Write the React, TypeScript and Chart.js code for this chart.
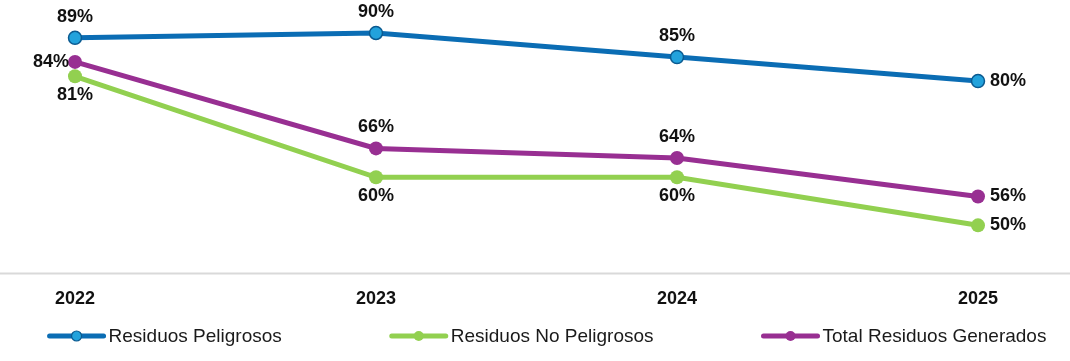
import React, { useEffect, useRef } from "react";
import { Chart, registerables } from "chart.js";

Chart.register(...registerables);

const years = ["2022", "2023", "2024", "2025"];
const peligrosos = [89, 90, 85, 80];
const noPeligrosos = [81, 60, 60, 50];
const totalGenerados = [84, 66, 64, 56];
const seriesNames = ["Residuos Peligrosos", "Residuos No Peligrosos", "Total Residuos Generados"];

const labelPlacement: string[][] = [
  ["above", "above", "above", "right"],
  ["below", "below", "below", "right"],
  ["left", "above", "above", "right"],
];

const FONT = "'Liberation Sans', Arial, sans-serif";

const valueLabels = {
  id: "valueLabels",
  afterDatasetsDraw(chart: any) {
    const ctx = chart.ctx;
    ctx.save();
    ctx.font = `bold 18px ${FONT}`;
    ctx.fillStyle = "#111111";
    ctx.textBaseline = "middle";
    chart.data.datasets.forEach((ds: any, di: number) => {
      const meta = chart.getDatasetMeta(di);
      meta.data.forEach((pt: any, i: number) => {
        const txt = `${ds.data[i]}%`;
        const pos = labelPlacement[di][i];
        let x = pt.x;
        let y = pt.y;
        if (pos === "above") {
          ctx.textAlign = "center";
          y -= 21;
        } else if (pos === "below") {
          ctx.textAlign = "center";
          y += 19;
        } else if (pos === "right") {
          ctx.textAlign = "left";
          x += 12;
        } else {
          ctx.textAlign = "right";
          x -= 6;
        }
        ctx.fillText(txt, x, y);
      });
    });
    ctx.restore();
  },
};

const baseLine = {
  id: "baseLine",
  beforeDatasetsDraw(chart: any) {
    const ctx = chart.ctx;
    const y = chart.chartArea.bottom;
    ctx.save();
    ctx.strokeStyle = "#d9d9d9";
    ctx.lineWidth = 2;
    ctx.beginPath();
    ctx.moveTo(0, y);
    ctx.lineTo(chart.width, y);
    ctx.stroke();
    ctx.restore();
  },
};

const customLegend = {
  id: "customLegend",
  afterDraw(chart: any) {
    const ctx = chart.ctx;
    ctx.save();
    ctx.font = `19px ${FONT}`;
    const markerW = 58;
    const textGap = 3;
    const itemGap = 108;
    const items = chart.data.datasets.map((ds: any) => ({
      ds,
      w: markerW + textGap + ctx.measureText(ds.label).width,
    }));
    const total = items.reduce((s: number, it: any) => s + it.w, 0) + itemGap * (items.length - 1);
    let x = 547 - total / 2;
    const y = 336;
    items.forEach((it: any) => {
      const ds = it.ds;
      ctx.strokeStyle = ds.borderColor;
      ctx.lineWidth = 5;
      ctx.lineCap = "round";
      ctx.beginPath();
      ctx.moveTo(x + 2, y);
      ctx.lineTo(x + markerW - 2, y);
      ctx.stroke();
      ctx.beginPath();
      ctx.arc(x + markerW / 2, y, 5, 0, Math.PI * 2);
      ctx.fillStyle = ds.pointBackgroundColor;
      ctx.fill();
      if (ds.pointBorderWidth > 0) {
        ctx.lineWidth = 1.2;
        ctx.strokeStyle = ds.pointBorderColor;
        ctx.stroke();
      }
      ctx.fillStyle = "#1a1a1a";
      ctx.textAlign = "left";
      ctx.textBaseline = "middle";
      ctx.fillText(ds.label, x + markerW + textGap, y + 1);
      x += it.w + itemGap;
    });
    ctx.restore();
  },
};

export default function App() {
  const ref = useRef<HTMLCanvasElement>(null);
  useEffect(() => {
    document.body.style.margin = "0";
    const chart = new Chart(ref.current!, {
      type: "line",
      data: {
        labels: years,
        datasets: [
          {
            label: seriesNames[0],
            data: peligrosos,
            borderColor: "#0b6db4",
            backgroundColor: "#0b6db4",
            pointBackgroundColor: "#22a2dc",
            pointBorderColor: "#0b5a90",
            pointBorderWidth: 1.5,
            pointRadius: 6.5,
            borderWidth: 5,
            tension: 0,
          },
          {
            label: seriesNames[1],
            data: noPeligrosos,
            borderColor: "#92d050",
            backgroundColor: "#92d050",
            pointBackgroundColor: "#92d050",
            pointBorderColor: "#92d050",
            pointBorderWidth: 0,
            pointRadius: 7,
            borderWidth: 5,
            tension: 0,
          },
          {
            label: seriesNames[2],
            data: totalGenerados,
            borderColor: "#982f92",
            backgroundColor: "#982f92",
            pointBackgroundColor: "#982f92",
            pointBorderColor: "#982f92",
            pointBorderWidth: 0,
            pointRadius: 7,
            borderWidth: 5,
            tension: 0,
          },
        ],
      },
      options: {
        responsive: false,
        animation: false,
        layout: { padding: { left: 75, right: 92, top: 9, bottom: 36 } },
        plugins: { legend: { display: false }, tooltip: { enabled: false } },
        scales: {
          x: {
            grid: { display: false, drawTicks: false },
            border: { display: false },
            ticks: {
              padding: 15,
              color: "#111111",
              font: { family: FONT, size: 18, weight: "bold" },
            },
          },
          y: {
            display: false,
            min: 40,
            max: 95,
          },
        },
      },
      plugins: [baseLine, valueLabels, customLegend],
    });
    return () => chart.destroy();
  }, []);
  return (
    <div style={{ width: 1070, height: 361, background: "#ffffff" }}>
      <canvas ref={ref} width={1070} height={361} />
    </div>
  );
}
